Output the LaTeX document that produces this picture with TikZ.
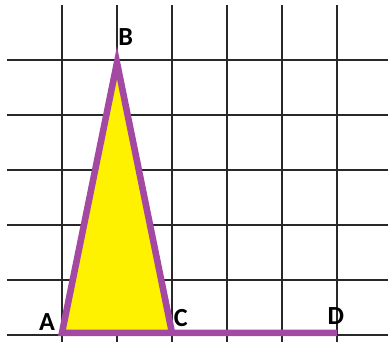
\documentclass[tikz,border=0pt]{standalone}
\usepackage{fontspec}
\setmainfont{Carlito}
\definecolor{triviolet}{RGB}{163, 73, 164}
\definecolor{triyellow}{RGB}{255, 242, 0}
\definecolor{gridgray}{RGB}{40, 40, 40}
\usetikzlibrary{positioning}

\begin{document}
\begin{tikzpicture}[
  gridline/.style={draw=gridgray, line width=1pt},
  side/.style={draw=triviolet, line width=3.4pt, line join=miter},
  ptlabel/.style={font=\fontsize{13.5}{16}\selectfont\bfseries, inner sep=0pt}
]
  \useasboundingbox (-1.127,-0.109) rectangle (5.927,6.091);
  % squared paper
  \foreach \x in {0,...,5}
    \draw[gridline] (\x,-0.2) -- (\x,6);
  \foreach \y in {0,...,5}
    \draw[gridline] (-1,\y) -- (6,\y);

  \coordinate (A) at (0,0.04);
  \coordinate (B) at (1,4.95);
  \coordinate (C) at (2,0.04);
  \coordinate (D) at (5,0.04);

  % triangle and segment
  \fill[triyellow] (A) -- (B) -- (C) -- cycle;
  \draw[side] (C) -- (A) -- (B) -- (C) -- (D);

  \node[ptlabel] (labA) at (-0.27,0.24) {A};
  \node[ptlabel] (labB) at (1.16,5.42) {B};
  \node[ptlabel] (labC) at (2.16,0.31) {C};
  \node[ptlabel] (labD) at (4.98,0.35) {D};
\end{tikzpicture}
\end{document}
